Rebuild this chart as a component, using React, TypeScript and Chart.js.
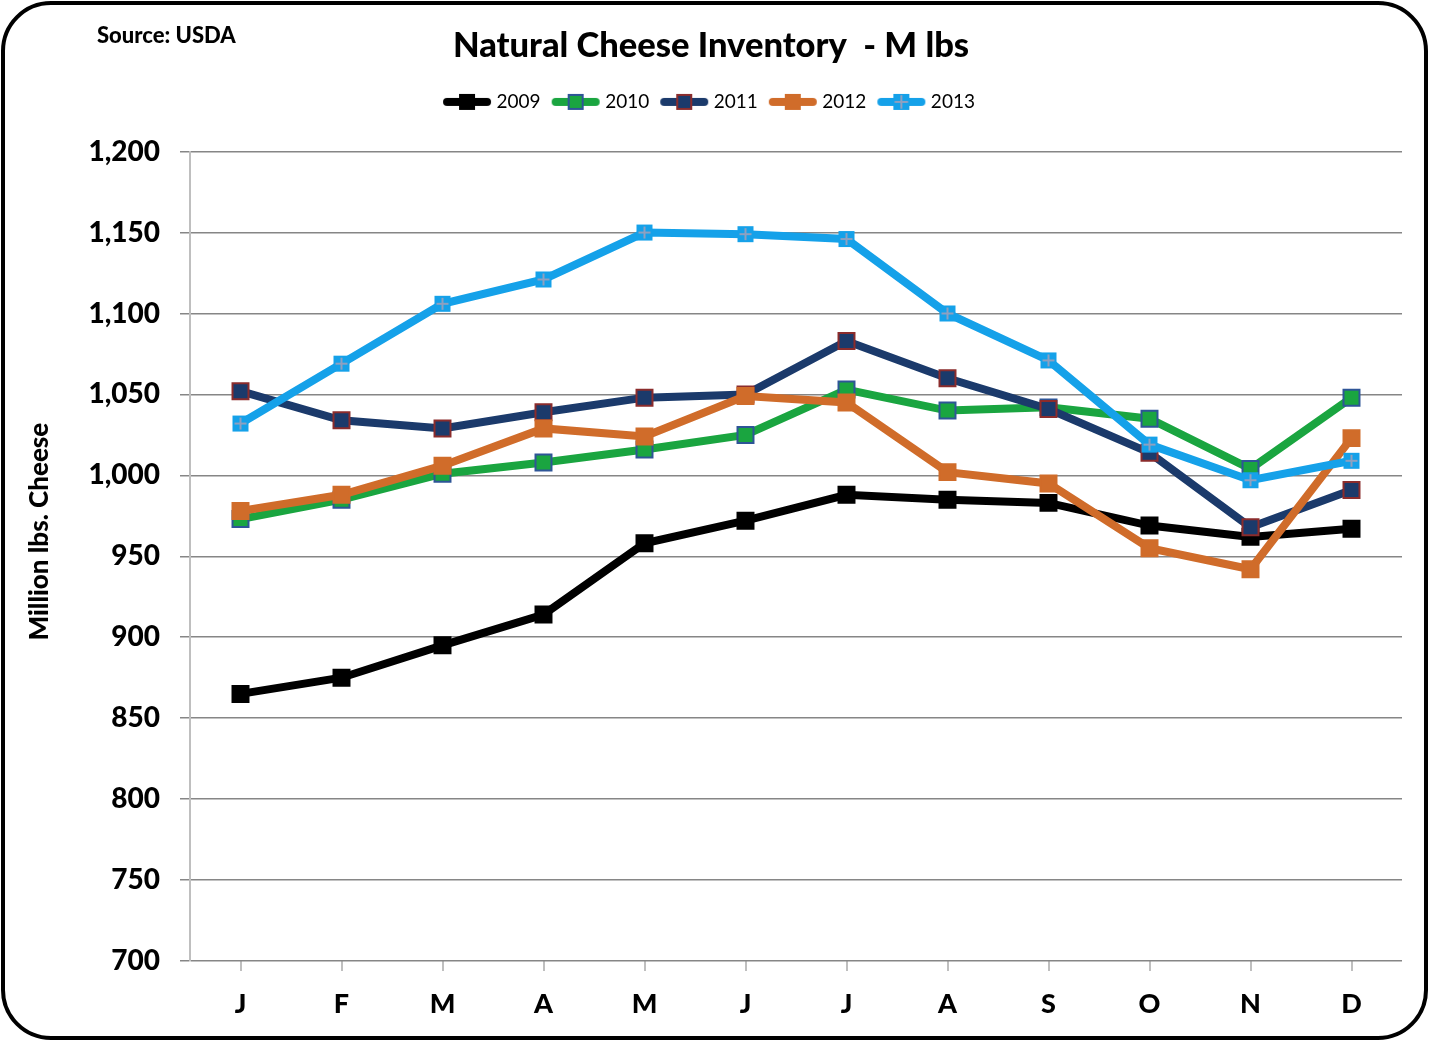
import React, { useEffect, useRef } from 'react';
import { Chart, registerables } from 'chart.js';

Chart.register(...registerables);

// Datos (millones de libras)
const months = ['J', 'F', 'M', 'A', 'M', 'J', 'J', 'A', 'S', 'O', 'N', 'D'];
const years = ['2009', '2010', '2011', '2012', '2013'];
const inv2009 = [865, 875, 895, 914, 958, 972, 988, 985, 983, 969, 962, 967];
const inv2010 = [973, 985, 1001, 1008, 1016, 1025, 1053, 1040, 1042, 1035, 1004, 1048];
const inv2011 = [1052, 1034, 1029, 1039, 1048, 1050, 1083, 1060, 1041, 1014, 968, 991];
const inv2012 = [978, 988, 1006, 1029, 1024, 1049, 1045, 1002, 995, 955, 942, 1023];
const inv2013 = [1032, 1069, 1106, 1121, 1150, 1149, 1146, 1100, 1071, 1019, 997, 1009];
const yMin = 700;
const yMax = 1200;
const yStep = 50;

const FONT = 'Lato, "DejaVu Sans", sans-serif';
const HEAVY = 900;

type SeriesStyle = { line: string; fill: string; border: string; cross: boolean };

const styles: SeriesStyle[] = [
  { line: '#000000', fill: '#000000', border: '#000000', cross: false },
  { line: '#1AA540', fill: '#1AA540', border: '#2E5597', cross: false },
  { line: '#1B3A6B', fill: '#1B3A6B', border: '#8B2C2C', cross: false },
  { line: '#D06C2A', fill: '#D06C2A', border: '#D06C2A', cross: false },
  { line: '#15A1E9', fill: '#15A1E9', border: '#15A1E9', cross: true },
];

// Dibuja el marcador cuadrado (con cruz para 2013)
function drawMarker(ctx: CanvasRenderingContext2D, cx: number, cy: number, s: SeriesStyle) {
  const h = 8;
  ctx.fillStyle = s.fill;
  ctx.fillRect(cx - h, cy - h, h * 2, h * 2);
  ctx.lineWidth = 2;
  ctx.strokeStyle = s.border;
  ctx.strokeRect(cx - h + 1, cy - h + 1, h * 2 - 2, h * 2 - 2);
  if (s.cross) {
    ctx.strokeStyle = '#8EA0C0';
    ctx.lineWidth = 2;
    ctx.beginPath();
    ctx.moveTo(cx - 6, cy);
    ctx.lineTo(cx + 6, cy);
    ctx.moveTo(cx, cy - 6);
    ctx.lineTo(cx, cy + 6);
    ctx.stroke();
  }
}

function makePointImage(s: SeriesStyle): HTMLCanvasElement {
  const c = document.createElement('canvas');
  c.width = 18;
  c.height = 18;
  const ctx = c.getContext('2d')!;
  drawMarker(ctx, 9, 9, s);
  return c;
}

function makeLegendImage(s: SeriesStyle): HTMLCanvasElement {
  const c = document.createElement('canvas');
  c.width = 50;
  c.height = 18;
  const ctx = c.getContext('2d')!;
  ctx.strokeStyle = s.line;
  ctx.lineWidth = 8;
  ctx.lineCap = 'round';
  ctx.beginPath();
  ctx.moveTo(5, 9);
  ctx.lineTo(45, 9);
  ctx.stroke();
  drawMarker(ctx, 25, 9, s);
  return c;
}

const CheeseInventoryChart: React.FC = () => {
  const canvasRef = useRef<HTMLCanvasElement>(null);

  useEffect(() => {
    document.body.style.margin = '0';
    if (!canvasRef.current) return;

    const values = [inv2009, inv2010, inv2011, inv2012, inv2013];
    const legendImages = styles.map(makeLegendImage);

    const datasets = values.map((data, i) => {
      const s = styles[i];
      return {
        label: years[i],
        data,
        borderColor: s.line,
        backgroundColor: s.fill,
        borderWidth: 8,
        tension: 0,
        pointStyle: s.cross ? makePointImage(s) : 'rect',
        pointRadius: 11.3,
        pointHoverRadius: 11.3,
        pointBackgroundColor: s.fill,
        pointBorderColor: s.border,
        pointBorderWidth: 2,
        order: 4 - i, // las series posteriores quedan encima
      };
    });

    const chart = new Chart(canvasRef.current, {
      type: 'line',
      data: { labels: months, datasets },
      options: {
        animation: false,
        responsive: true,
        maintainAspectRatio: false,
        layout: { padding: { top: 0, left: 20, right: 28, bottom: 0 } },
        plugins: {
          title: {
            display: true,
            text: 'Natural Cheese Inventory  - M lbs',
            color: '#000',
            font: { family: FONT, size: 34.5, weight: HEAVY },
            padding: { top: 25, bottom: 11 },
          },
          subtitle: {
            display: true,
            text: ' ',
            weight: 500,
            font: { size: 1 },
            padding: { top: 0, bottom: 29 },
          } as any,
          legend: {
            display: true,
            position: 'top',
            labels: {
              usePointStyle: true,
              pointStyleWidth: 40,
              padding: 15,
              color: '#000',
              font: { family: FONT, size: 19 },
              sort: (a, b) => (a.datasetIndex ?? 0) - (b.datasetIndex ?? 0),
              generateLabels: (c) => {
                const items = Chart.defaults.plugins.legend.labels.generateLabels(c);
                return items.map((it) => ({ ...it, pointStyle: legendImages[it.datasetIndex ?? 0] }));
              },
            },
          },
          tooltip: { enabled: false },
        },
        scales: {
          x: {
            offset: true,
            grid: {
              display: true,
              drawOnChartArea: false,
              drawTicks: true,
              tickLength: 10,
              tickColor: '#BFBFBF',
              lineWidth: 2,
            },
            border: { display: false },
            ticks: {
              color: '#000',
              padding: 17,
              font: { family: FONT, size: 27, weight: HEAVY },
            },
            afterFit: (scale) => {
              scale.height = 82;
            },
          },
          y: {
            min: yMin,
            max: yMax,
            ticks: {
              stepSize: yStep,
              color: '#000',
              padding: 20,
              font: { family: FONT, size: 28, weight: HEAVY },
              callback: (v) => Number(v).toLocaleString('en-US'),
            },
            grid: {
              color: '#868686',
              lineWidth: 1.5,
              tickLength: 10,
              tickColor: '#868686',
            },
            border: { display: true, color: '#BFBFBF', width: 2 },
            title: {
              display: true,
              // espacios iniciales: el título queda algo por encima del centro
              text: '        Million lbs. Cheese',
              color: '#000',
              font: { family: FONT, size: 26, weight: HEAVY },
              padding: { top: 4, bottom: 0 },
            },
            afterFit: (scale) => {
              scale.width = 170;
            },
          },
        },
      },
    });

    return () => {
      chart.destroy();
    };
  }, []);

  const wrapStyle: React.CSSProperties = {
    position: 'relative',
    width: '1430px',
    height: '1043px',
    background: '#fff',
    fontFamily: FONT,
  };

  const frameStyle: React.CSSProperties = {
    position: 'absolute',
    left: '1px',
    top: '1px',
    width: '1427px',
    height: '1039px',
    border: '4px solid #000',
    borderRadius: '50px',
    boxSizing: 'border-box',
    pointerEvents: 'none',
  };

  const sourceStyle: React.CSSProperties = {
    position: 'absolute',
    left: '97px',
    top: '21px',
    fontSize: '22px',
    fontWeight: HEAVY,
    color: '#000',
    fontFamily: FONT,
  };

  return (
    <div style={wrapStyle}>
      <canvas ref={canvasRef}></canvas>
      <div style={frameStyle}></div>
      <div style={sourceStyle}>Source: USDA</div>
    </div>
  );
};

export default CheeseInventoryChart;
